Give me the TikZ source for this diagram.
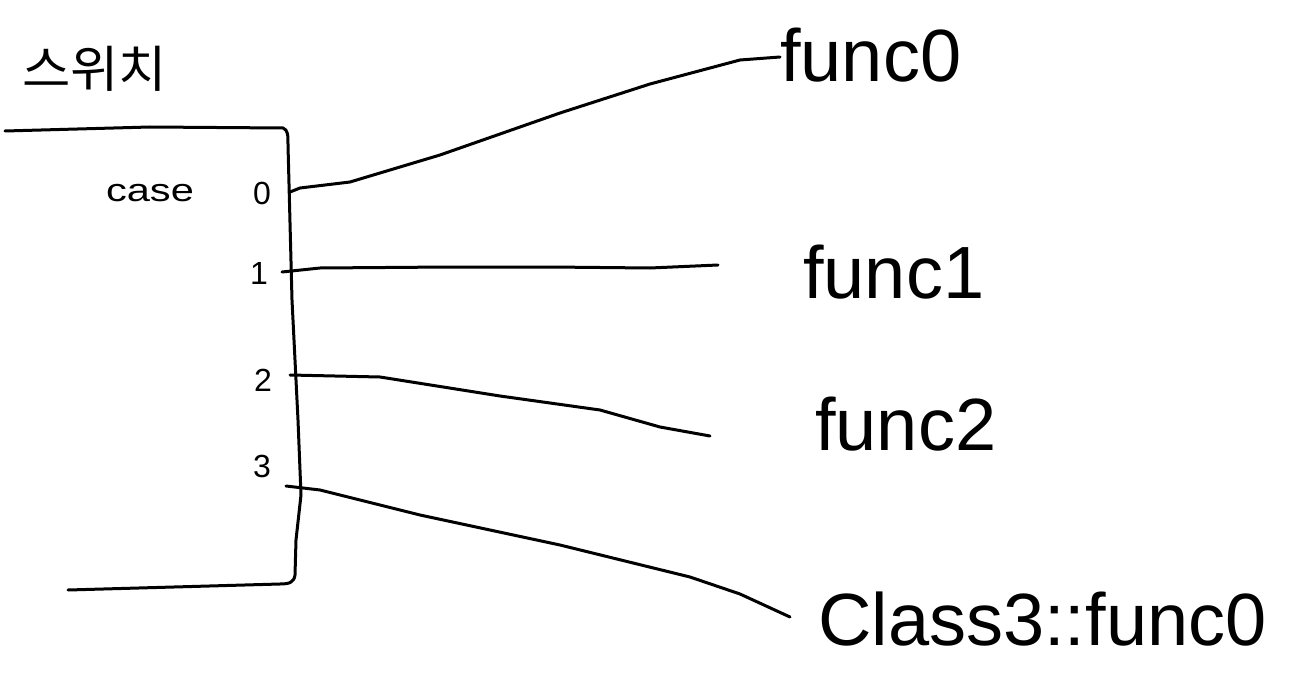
\documentclass[tikz,border=0pt]{standalone}
\usepackage{fontspec}
\setmainfont{Liberation Sans}
\newfontfamily\kr{Noto Sans CJK KR}
\begin{document}
\begin{tikzpicture}[x=1pt,y=-1pt,
  ink/.style={line width=3pt,line cap=round,line join=round,black},
  big/.style={font=\fontsize{74}{74}\selectfont,inner sep=0pt,anchor=base west},
  small/.style={font=\fontsize{32}{32}\selectfont,inner sep=0pt}]
\useasboundingbox (0,0) rectangle (1309,682);
% title
\node[inner sep=0pt,anchor=base west,font=\kr\fontsize{50}{50}\selectfont,xscale=1.05] (title) at (22,88) {스위치};
% box
\draw[ink] (5,131) -- (150,127) -- (283,128) .. controls (288,130) and (288,135) .. (288,145)
  -- (292,300) -- (298,420) -- (301,495) -- (296,540) -- (295,575)
  .. controls (294,582) and (290,584) .. (280,584) -- (68,590);
% labels inside
\node[small,xscale=1.3,anchor=center] (case) at (150,193) {case};
\node[small,anchor=center] (k0) at (262,193) {0};
\node[small,anchor=center] (k1) at (259,273) {1};
\node[small,anchor=center] (k2) at (263,380) {2};
\node[small,anchor=center] (k3) at (262,466) {3};
% targets
\node[big] (f0) at (780,82) {func0};
\node[big] (f1) at (803,298) {func1};
\node[big] (f2) at (815,450) {func2};
\node[big] (f3) at (818,645) {Class3::func0};
% connector end points
\coordinate (s0) at (290,192);
\coordinate (s1) at (282,272);
\coordinate (s2) at (290,375);
\coordinate (s3) at (286,486);
\coordinate (e0) at (780,57);
\coordinate (e1) at (718,265);
\coordinate (e2) at (710,436);
\coordinate (e3) at (790,617);
\draw[ink] (s0) -- (300,188) -- (350,182) -- (440,155) -- (560,113) -- (650,84) -- (740,60) -- (e0);
\draw[ink] (s1) -- (320,268) -- (450,267) -- (550,267) -- (650,268) -- (e1);
\draw[ink] (s2) -- (380,377) -- (500,396) -- (600,410) -- (660,427) -- (e2);
\draw[ink] (s3) -- (320,490) -- (420,515) -- (560,545) -- (690,577) -- (740,594) -- (e3);
\end{tikzpicture}
\end{document}
